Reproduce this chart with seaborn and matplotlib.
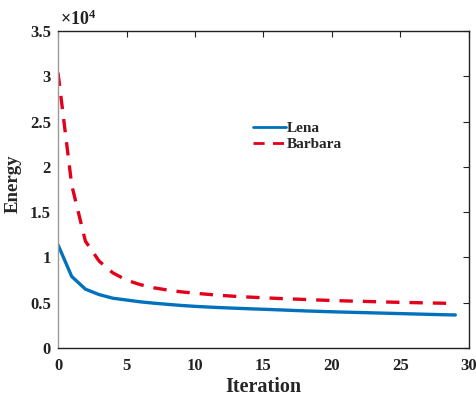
import matplotlib
matplotlib.use("Agg")
import matplotlib.pyplot as plt
import matplotlib.ticker as mticker
import numpy as np
import pandas as pd
import seaborn as sns

iterations = list(range(30))
lena = [11400, 7900, 6500, 5900, 5500, 5300, 5100, 4950, 4820, 4700,
        4600, 4520, 4450, 4390, 4330, 4280, 4220, 4160, 4100, 4050,
        4000, 3960, 3920, 3880, 3840, 3800, 3760, 3720, 3680, 3650]
barbara = [30400, 18000, 11800, 9600, 8300, 7500, 7000, 6650, 6400, 6200,
           6050, 5920, 5800, 5700, 5620, 5550, 5480, 5420, 5360, 5300,
           5250, 5200, 5160, 5120, 5080, 5040, 5010, 4980, 4950, 4920]
series_names = ["Lena", "Barbara"]
x_ticks = [0, 5, 10, 15, 20, 25, 30]
y_ticks = [0, 5000, 10000, 15000, 20000, 25000, 30000, 35000]

sns.set_theme(style="white")
plt.rcParams["font.family"] = ["Liberation Serif", "DejaVu Serif"]
plt.rcParams["font.weight"] = "bold"
plt.rcParams["mathtext.fontset"] = "custom"
plt.rcParams["mathtext.rm"] = "Liberation Serif:bold"
plt.rcParams["mathtext.it"] = "Liberation Serif:bold"

df = pd.DataFrame({
    "Iteration": iterations * 2,
    "Energy": lena + barbara,
    "Image": [series_names[0]] * len(lena) + [series_names[1]] * len(barbara),
})

fig = plt.figure(figsize=(4.77, 3.98), dpi=100)
ax = fig.add_axes([0.1216, 0.1256, 0.8616, 0.7964])

sns.lineplot(data=df, x="Iteration", y="Energy", hue="Image", style="Image",
             palette={"Lena": "#0072BD", "Barbara": "#E3001B"},
             dashes={"Lena": "", "Barbara": (4, 3)},
             linewidth=2.4, ax=ax)

ax.set_xlim(0, 30)
ax.set_ylim(0, 35000)
ax.set_xticks(x_ticks)
ax.set_yticks(y_ticks)
ax.yaxis.set_major_formatter(mticker.FuncFormatter(lambda v, p: f"{v / 1e4:g}"))
ax.tick_params(direction="in", length=4, width=0.8, top=True, right=True,
               labelsize=12, colors="#222222")
ax.tick_params(axis="x", pad=7)
ax.tick_params(axis="y", pad=5)
for lbl in ax.get_xticklabels() + ax.get_yticklabels():
    lbl.set_fontweight("bold")
for name, sp in ax.spines.items():
    sp.set_visible(True)
    sp.set_linewidth(1.0)
    sp.set_color("#222222")
ax.spines["left"].set_color("#9a9a9a")

ax.set_xlabel("Iteration", fontsize=14.5, fontweight="bold")
ax.xaxis.set_label_coords(0.5, -0.093)
ax.set_ylabel("Energy", fontsize=13.5, fontweight="bold")
ax.yaxis.set_label_coords(-0.088, 0.519)

ax.text(0.005, 1.008, r"$\times10^{4}$", transform=ax.transAxes,
        fontsize=13, ha="left", va="bottom", color="#222222")

leg = ax.legend(loc="upper left", bbox_to_anchor=(0.474, 0.714), frameon=False,
                fontsize=11, handlelength=2.2, handletextpad=0.05,
                labelspacing=0.15, borderaxespad=0, borderpad=0)
for t in leg.get_texts():
    t.set_fontweight("bold")
for h in leg.get_lines():
    h.set_linewidth(2.0)

fig.savefig("out.png", dpi=100)
